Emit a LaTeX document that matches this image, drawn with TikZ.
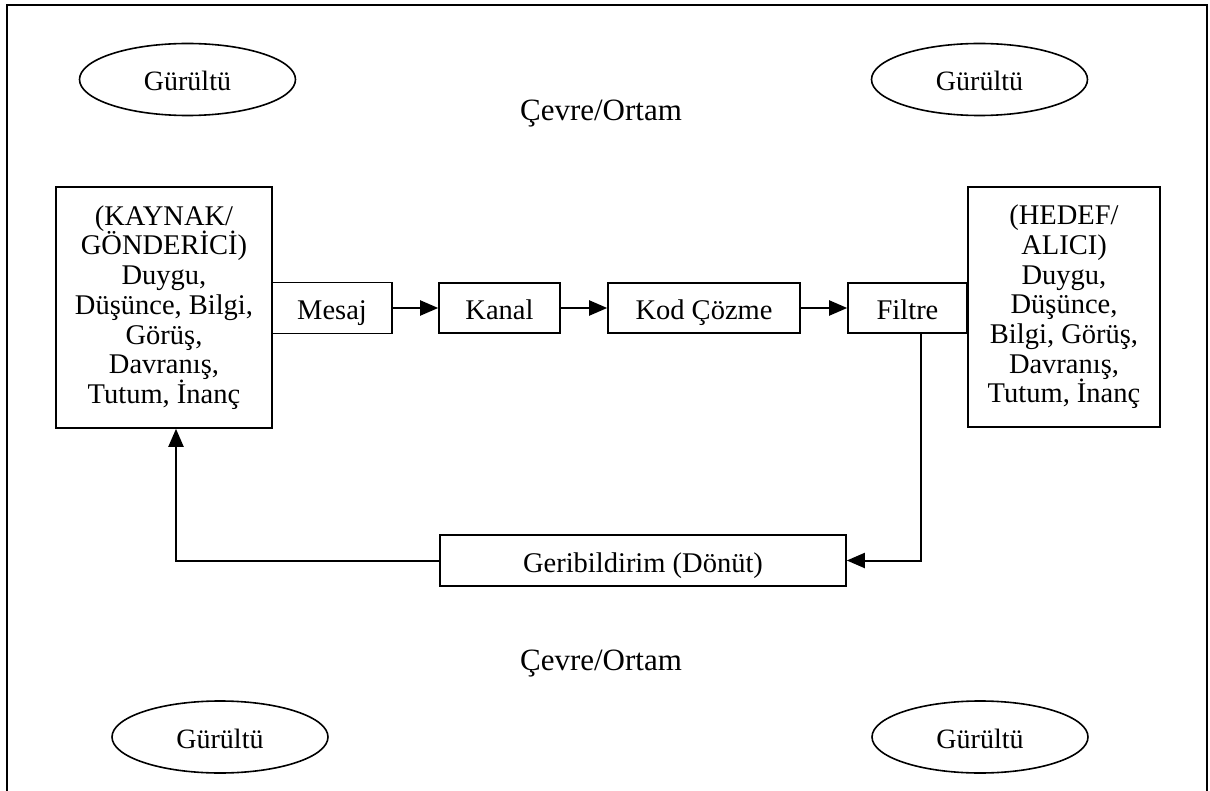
\documentclass[tikz,border=0pt]{standalone}
\usepackage{fontspec}
\setmainfont{Liberation Serif}
\usetikzlibrary{shapes.geometric,arrows.meta}
\tikzset{
  box/.style={draw, line width=1.6pt, inner sep=0pt, align=center, font=\fontsize{28.5}{29.7}\selectfont},
  small/.style={box, text height=24pt, text depth=0pt},
  noise/.style={draw, ellipse, line width=1.6pt, inner sep=0pt, minimum width=216pt, minimum height=72pt, font=\fontsize{28}{30}\selectfont, text height=23pt, text depth=0pt},
  env/.style={inner sep=0pt, font=\fontsize{31}{34}\selectfont},
  conn/.style={line width=2pt},
  arr/.style={conn, -{Triangle[length=18pt,width=15pt]}},
}
\begin{document}
\begin{tikzpicture}[x=1pt,y=-1pt]
\useasboundingbox (0,0) rectangle (1210,791);
% outer frame (open at bottom)
\draw[line width=1.6pt] (7,800) -- (7,5) -- (1207,5) -- (1207,800);

\node[noise] (n1) at (187.5,79.5) {Gürültü};
\node[noise] (n2) at (979.5,79.5) {Gürültü};
\node[noise] (n3) at (220,737) {Gürültü};
\node[noise] (n4) at (980,737) {Gürültü};

\node[env] (e1) at (601,114) {Çevre/Ortam};
\node[env] (e2) at (601,664) {Çevre/Ortam};

\node[box, minimum width=216pt, minimum height=241pt] (src) at (164,307.5)
  {(KAYNAK/\\GÖNDERİCİ)\\Duygu,\\Düşünce, Bilgi,\\Görüş,\\Davranış,\\Tutum, İnanç};
\node[box, minimum width=192pt, minimum height=240pt] (dst) at (1064,307)
  {(HEDEF/\\ALICI)\\Duygu,\\Düşünce,\\Bilgi, Görüş,\\Davranış,\\Tutum, İnanç};

\node[small, minimum width=120pt, minimum height=51pt] (msg) at (332,308) {Mesaj};
\node[small, minimum width=121pt, minimum height=50pt] (kanal) at (499.5,308) {Kanal};
\node[small, minimum width=192pt, minimum height=50pt] (kod) at (704,308) {Kod Çözme};
\node[small, minimum width=119pt, minimum height=50pt] (filt) at (907.5,308) {Filtre};

\node[small, minimum width=406pt, minimum height=51pt] (fb) at (643,560.5) {Geribildirim (Dönüt)};

\draw[arr] (msg.east) -- (kanal.west);
\draw[arr] (kanal.east) -- (kod.west);
\draw[arr] (kod.east) -- (filt.west);

\coordinate (c1) at (921,560.5);
\coordinate (c2) at (176,560.5);
\draw[arr] (filt.south -| c1) -- (c1) -- (fb.east);
\draw[arr] (fb.west) -- (c2) -- (src.south -| c2);
\end{tikzpicture}
\end{document}
